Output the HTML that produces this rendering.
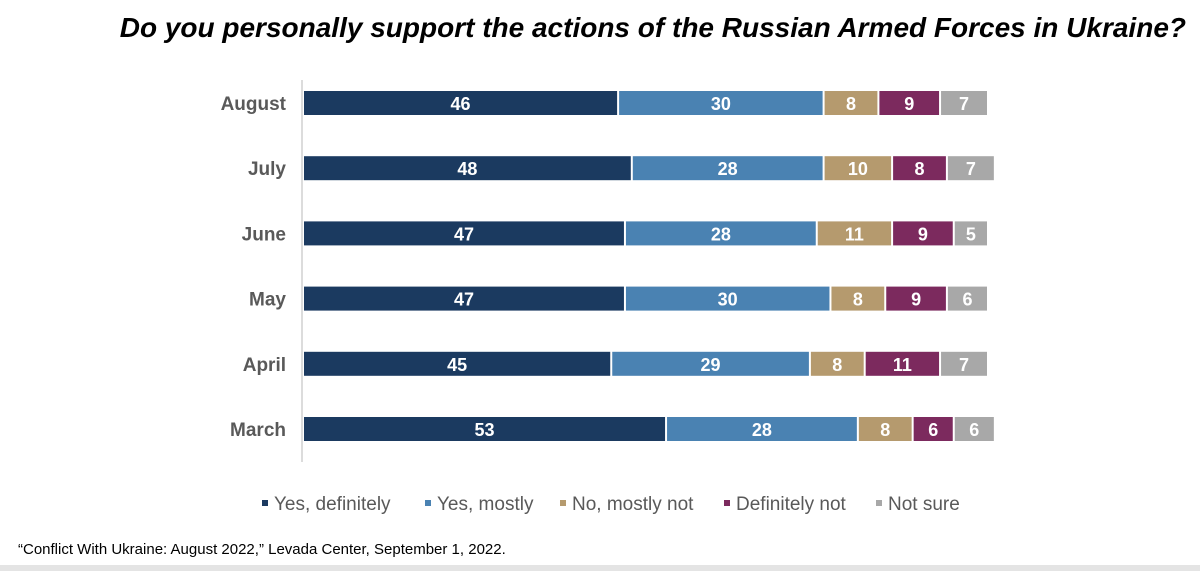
<!DOCTYPE html>
<html><head><meta charset="utf-8"><style>
body{margin:0;width:1200px;height:571px;background:#fff;overflow:hidden;font-family:"Liberation Sans",sans-serif;position:relative}
#title{position:absolute;left:0;right:14px;top:12px;text-align:right;font-size:28px;font-weight:bold;font-style:italic;color:#000;white-space:nowrap}
#foot{position:absolute;left:18px;top:541px;font-size:15px;color:#000;font-family:"Liberation Sans Narrow","Liberation Sans",sans-serif}
#fline{position:absolute;left:0;top:565px;width:1200px;height:6px;background:#e4e4e4}
</style></head><body>
<div id="title">Do you personally support the actions of the Russian Armed Forces in Ukraine?</div>
<svg id="chart" width="1200" height="571" style="position:absolute;left:0;top:0"></svg>
<div id="foot">“Conflict With Ukraine: August 2022,” Levada Center, September 1, 2022.</div>
<div id="fline"></div>
<script>
const categories=["August","July","June","May","April","March"];
const seriesNames=["Yes, definitely","Yes, mostly","No, mostly not","Definitely not","Not sure"];
const yesDef=[46,48,47,47,45,53];
const yesMost=[30,28,28,30,29,28];
const noMost=[8,10,11,8,8,8];
const defNot=[9,8,9,9,11,6];
const notSure=[7,7,5,6,7,6];
const series=[yesDef,yesMost,noMost,defNot,notSure];
const colors=["#1b3a60","#4a82b2","#b59a6e","#7c2a5e","#a8a8a8"];
const NS="http://www.w3.org/2000/svg";
const svg=document.getElementById('chart');
const x0=304,scale=6.85;
const xs=v=>x0+v*scale;
const yc=i=>103+i*65.2;
function mk(t,a){const e=document.createElementNS(NS,t);for(const k in a)e.setAttribute(k,a[k]);svg.appendChild(e);return e;}
const ax=mk('line',{x1:302,x2:302,y1:80,y2:462,stroke:'#d0d0d0','stroke-width':1.5});


categories.forEach((c,i)=>{
  const t=mk('text',{x:286,y:yc(i)+7,'text-anchor':'end','font-size':19,'font-weight':'bold',fill:'#595959'});
  t.textContent=c;
  
  
  let cum=0;
  series.forEach((s,j)=>{
    const v=s[i];
    const r=mk('rect',{x:xs(cum),y:yc(i)-12,width:v*scale-2,height:24,fill:colors[j]});
    
    
    const l=mk('text',{x:xs(cum+v/2)-1,y:yc(i)+7,'text-anchor':'middle','font-size':18,'font-weight':'bold',fill:'#fff'});
    l.textContent=v;
    
    
    cum+=v;
  });
});
const lpos=[262,425,560,724,876];
seriesNames.forEach((n,j)=>{
  const lx=lpos[j];
  const g=document.createElementNS(NS,'g');svg.appendChild(g);
  
  
  const r=document.createElementNS(NS,'rect');
  r.setAttribute('x',lx);r.setAttribute('y',500);r.setAttribute('width',6);r.setAttribute('height',6);r.setAttribute('fill',colors[j]);g.appendChild(r);
  const t=document.createElementNS(NS,'text');
  t.setAttribute('x',lx+12);t.setAttribute('y',510);t.setAttribute('font-size',19);t.setAttribute('fill','#595959');
  t.textContent=n;g.appendChild(t);
});
</script>
</body></html>
